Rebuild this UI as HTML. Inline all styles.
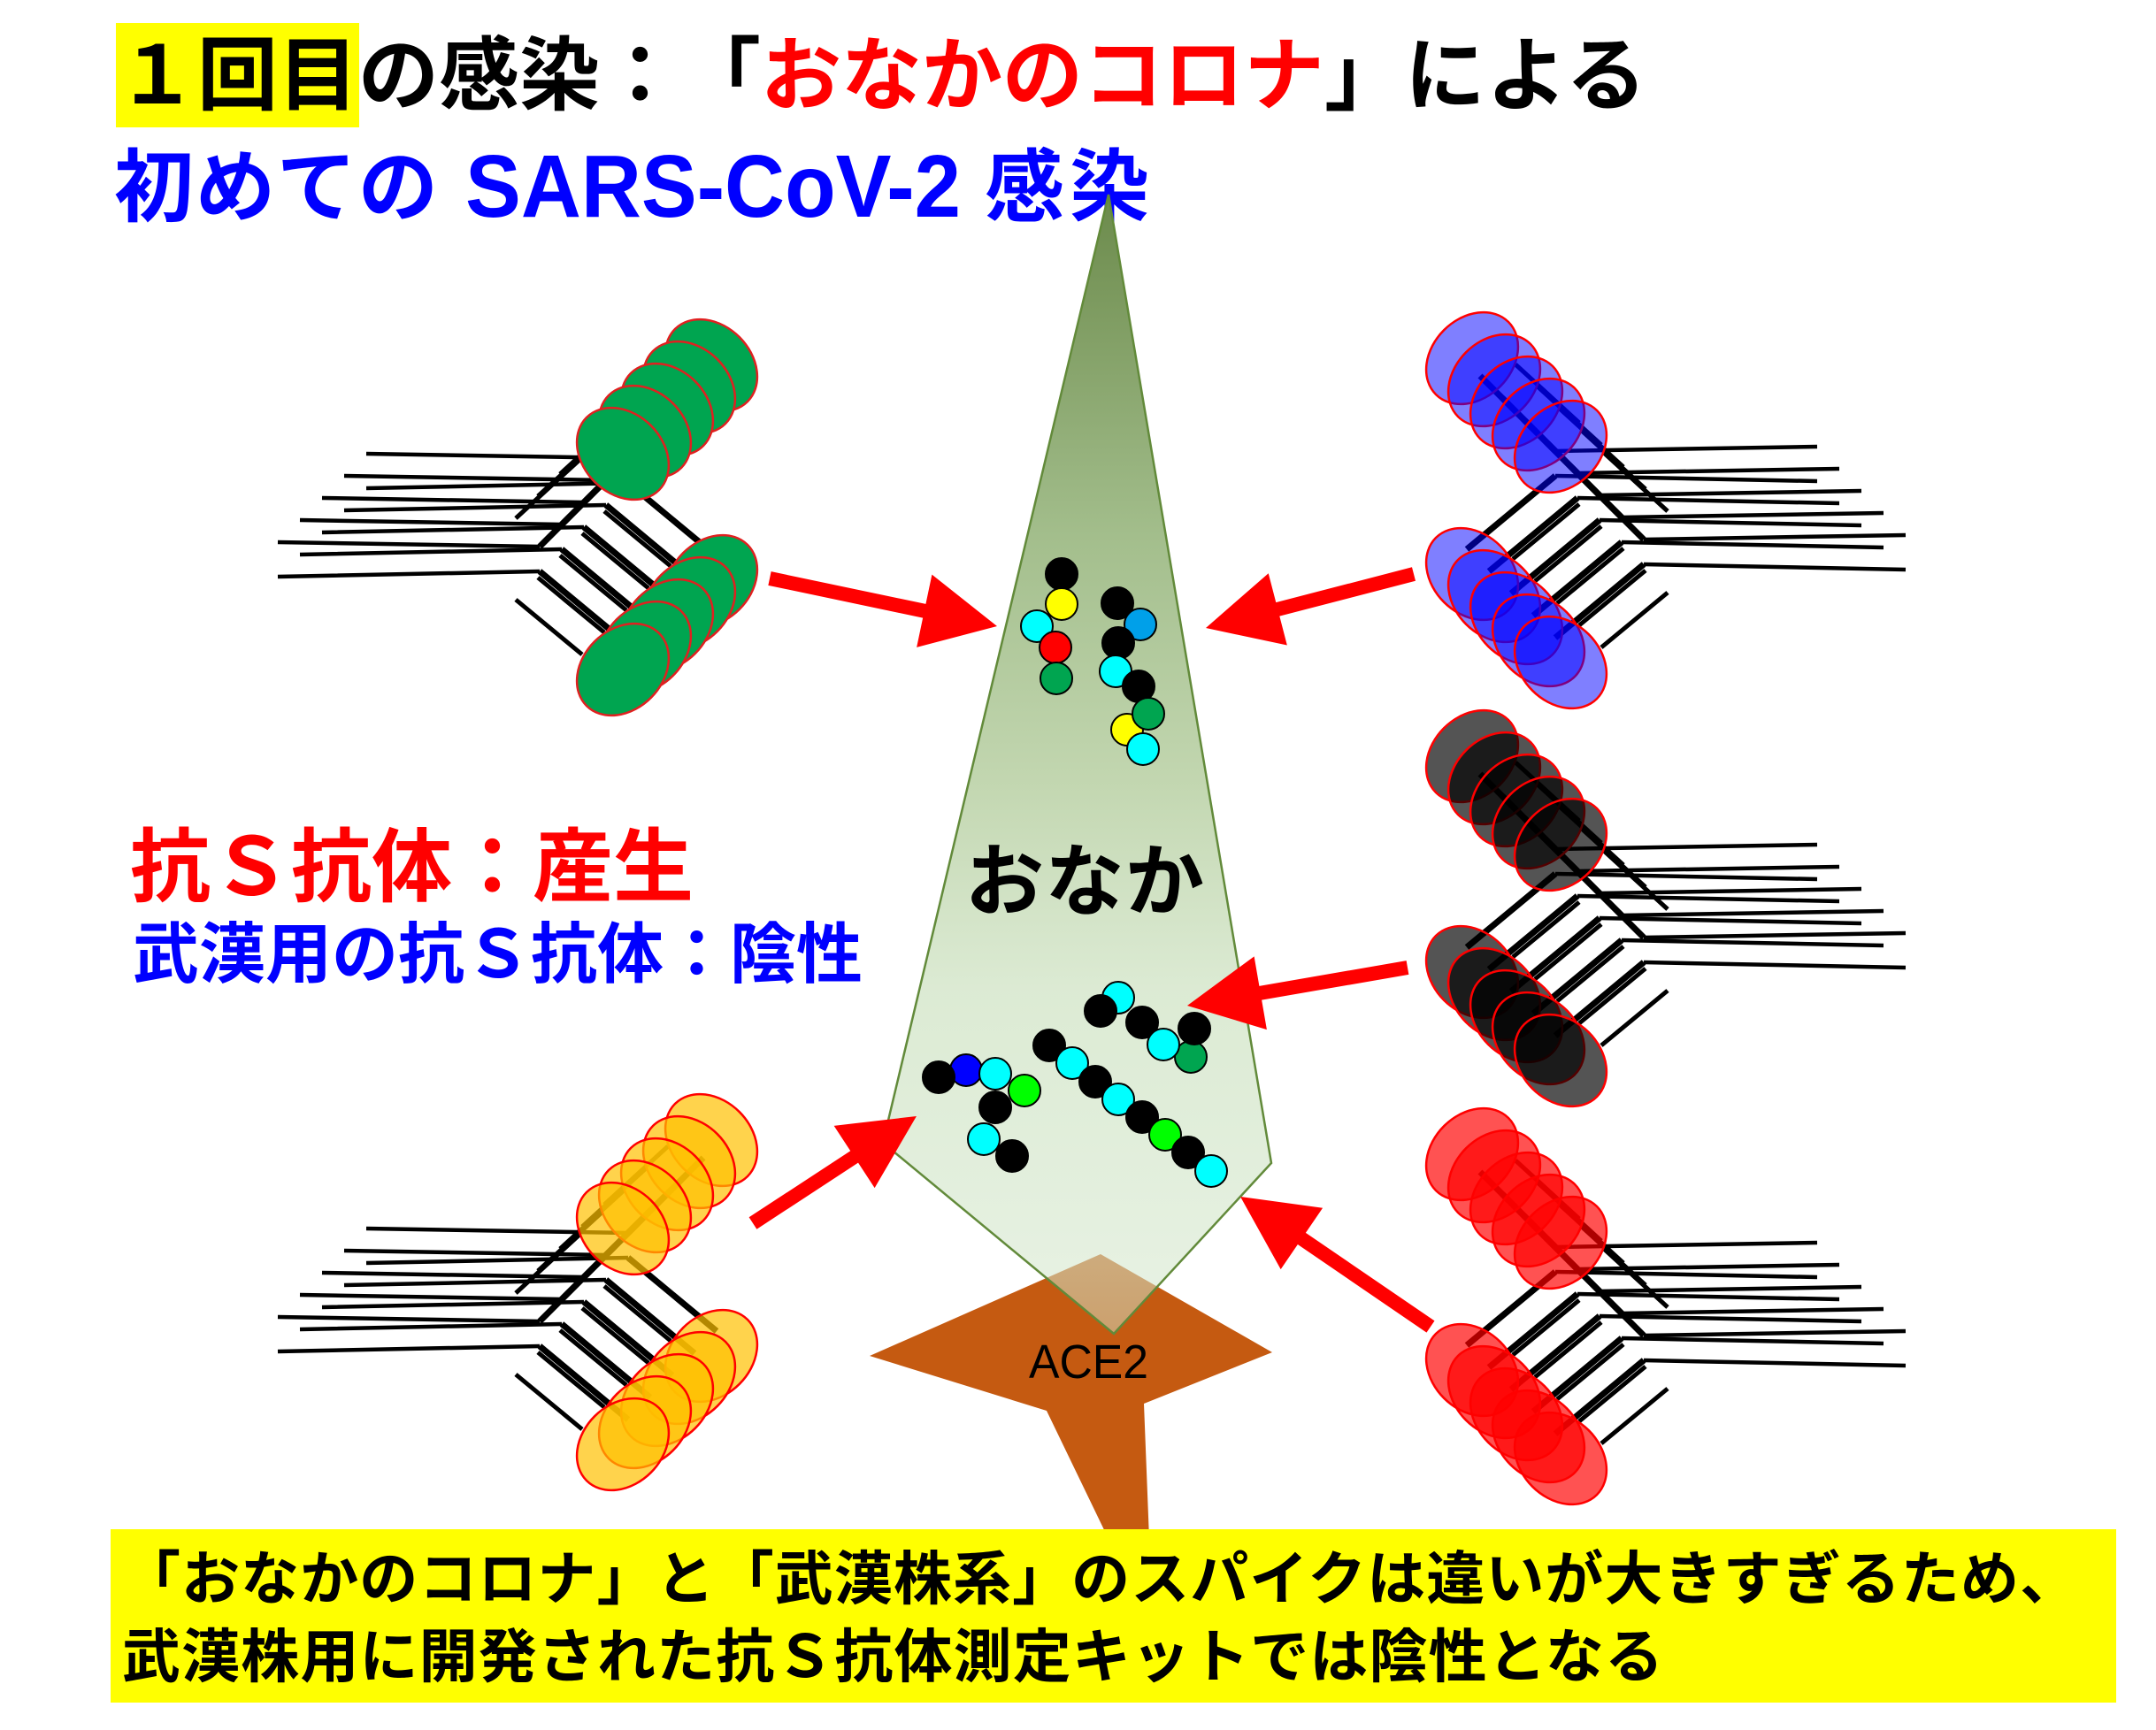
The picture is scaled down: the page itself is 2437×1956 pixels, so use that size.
<!DOCTYPE html>
<html><head><meta charset="utf-8"><style>
html,body{margin:0;padding:0;background:#fff;}
svg{display:block;}
text{font-family:"Liberation Sans","Noto Sans CJK JP",sans-serif;font-feature-settings:"chws" 0,"halt" 0,"palt" 0;}
</style></head><body>
<svg xmlns="http://www.w3.org/2000/svg" xmlns:xlink="http://www.w3.org/1999/xlink" width="2437" height="1956" viewBox="0 0 2437 1956">
<defs>
 <linearGradient id="tg" x1="0" y1="220" x2="0" y2="1508" gradientUnits="userSpaceOnUse">
  <stop offset="0" stop-color="#6B8A4B"/>
  <stop offset="0.3" stop-color="#A3BE8C"/>
  <stop offset="0.52" stop-color="#C3D7B1"/>
  <stop offset="0.7" stop-color="#D6E7CC" stop-opacity="0.85"/>
  <stop offset="1" stop-color="#D2E6CA" stop-opacity="0.5"/>
 </linearGradient>
 <g id="ab">
  <path d="M-296,-19 L0,-14 M-296,20 L0,14" stroke="#000" stroke-width="4.5" fill="none"/>
  <path d="M-27,-46 L45,-112 M-27,46 L48,108" stroke="#000" stroke-width="5" fill="none"/>
  <path d="M0,-14 L85,-99 M0,14 L100,97" stroke="#000" stroke-width="7" fill="none"/>
 </g>
 <g id="lines5">
  <use href="#ab" xlink:href="#ab" transform="translate(100,-100)"/>
  <use href="#ab" xlink:href="#ab" transform="translate(75,-75)"/>
  <use href="#ab" xlink:href="#ab" transform="translate(50,-50)"/>
  <use href="#ab" xlink:href="#ab" transform="translate(25,-25)"/>
  <use href="#ab" xlink:href="#ab"/>
 </g>
 <g id="ells">
  <ellipse rx="58" ry="45" transform="translate(194,-219) rotate(45)"/>
  <ellipse rx="58" ry="45" transform="translate(194,25) rotate(-45)"/>
  <ellipse rx="58" ry="45" transform="translate(169,-194) rotate(45)"/>
  <ellipse rx="58" ry="45" transform="translate(169,50) rotate(-45)"/>
  <ellipse rx="58" ry="45" transform="translate(144,-169) rotate(45)"/>
  <ellipse rx="58" ry="45" transform="translate(144,75) rotate(-45)"/>
  <ellipse rx="58" ry="45" transform="translate(119,-144) rotate(45)"/>
  <ellipse rx="58" ry="45" transform="translate(119,100) rotate(-45)"/>
  <ellipse rx="58" ry="45" transform="translate(94,-119) rotate(45)"/>
  <ellipse rx="58" ry="45" transform="translate(94,125) rotate(-45)"/>
 </g>
</defs>

<rect x="0" y="0" width="2437" height="1956" fill="#fff"/>

<!-- Title -->
<rect x="131" y="26" width="275" height="118" fill="#FFFF00"/>
<g font-size="91" font-weight="bold">
<text x="132" y="117" fill="#000" textLength="637" lengthAdjust="spacing">１回目の感染：</text>
<text x="769" y="117" fill="#000">「</text>
<text x="860" y="117" fill="#FF0000" textLength="637" lengthAdjust="spacing">おなかのコロナ</text>
<text x="1497" y="117" fill="#000">」</text>
<text x="1588" y="117" fill="#000" textLength="273" lengthAdjust="spacing">による</text>
</g>

<text x="129" y="243" font-size="90" font-weight="bold" fill="#0000FF" textLength="366" lengthAdjust="spacing">初めての</text>
<text x="526" y="245" font-size="100" font-weight="bold" fill="#0000FF" textLength="560" lengthAdjust="spacingAndGlyphs">SARS-CoV-2</text>
<text x="1113" y="243" font-size="90" font-weight="bold" fill="#0000FF" textLength="186" lengthAdjust="spacing">感染</text>

<!-- ACE2 -->
<polygon points="1244,1418 1438,1529 1293,1587 1299,1740 1253,1740 1183,1595 983,1533" fill="#C55A11"/>

<!-- Triangle (onaka) -->
<polygon points="1253,220 1437,1315 1259,1508 998,1292" fill="url(#tg)" stroke="#628A3A" stroke-width="2.5" stroke-linejoin="miter"/>

<!-- dots -->
<g stroke="#000" stroke-width="2">
 <circle cx="1200" cy="649" r="18" fill="#000"/>
 <circle cx="1200" cy="683" r="18" fill="#FFFF00"/>
 <circle cx="1172" cy="708" r="18" fill="#00FFFF"/>
 <circle cx="1193" cy="732" r="18" fill="#FF0000"/>
 <circle cx="1194" cy="767" r="18" fill="#00A550"/>

 <circle cx="1263" cy="682" r="18" fill="#000"/>
 <circle cx="1289" cy="706" r="18" fill="#00A0E9"/>
 <circle cx="1264" cy="727" r="18" fill="#000"/>
 <circle cx="1261" cy="759" r="18" fill="#00FFFF"/>
 <circle cx="1287" cy="776" r="18" fill="#000"/>
 <circle cx="1274" cy="825" r="18" fill="#FFFF00"/>
 <circle cx="1298" cy="807" r="18" fill="#00A550"/>
 <circle cx="1292" cy="847" r="18" fill="#00FFFF"/>

 <circle cx="1092" cy="1210" r="18" fill="#0000FF"/>
 <circle cx="1061" cy="1218" r="18" fill="#000"/>
 <circle cx="1125" cy="1214" r="18" fill="#00FFFF"/>
 <circle cx="1158" cy="1233" r="18" fill="#00FF00"/>
 <circle cx="1125" cy="1252" r="18" fill="#000"/>
 <circle cx="1112" cy="1288" r="18" fill="#00FFFF"/>
 <circle cx="1144" cy="1307" r="18" fill="#000"/>

 <circle cx="1186" cy="1182" r="18" fill="#000"/>
 <circle cx="1212" cy="1202" r="18" fill="#00FFFF"/>
 <circle cx="1238" cy="1223" r="18" fill="#000"/>
 <circle cx="1264" cy="1243" r="18" fill="#00FFFF"/>
 <circle cx="1291" cy="1263" r="18" fill="#000"/>
 <circle cx="1317" cy="1283" r="18" fill="#00FF00"/>
 <circle cx="1343" cy="1303" r="18" fill="#000"/>
 <circle cx="1369" cy="1324" r="18" fill="#00FFFF"/>

 <circle cx="1264" cy="1128" r="18" fill="#00FFFF"/>
 <circle cx="1244" cy="1143" r="18" fill="#000"/>
 <circle cx="1291" cy="1156" r="18" fill="#000"/>
 <circle cx="1346" cy="1195" r="18" fill="#00A550"/>
 <circle cx="1315" cy="1181" r="18" fill="#00FFFF"/>
 <circle cx="1350" cy="1163" r="18" fill="#000"/>
</g>

<text x="1091" y="1028" font-size="89" font-weight="bold" fill="#000" textLength="270" lengthAdjust="spacing">おなか</text>
<text x="1163" y="1558" font-size="54" fill="#000" textLength="135" lengthAdjust="spacingAndGlyphs">ACE2</text>

<!-- Left antibodies -->
<g transform="translate(610,632)">
 <use href="#lines5" xlink:href="#lines5"/>
 <use href="#ells" xlink:href="#ells" fill="#00A550" stroke="#E02020" stroke-width="2.5"/>
</g>
<g transform="translate(610,1508)">
 <use href="#lines5" xlink:href="#lines5"/>
 <use href="#ells" xlink:href="#ells" fill="#FFC000" fill-opacity="0.7" stroke="#FF0000" stroke-width="2.5"/>
</g>

<!-- Right antibodies (mirrored) -->
<g transform="translate(1858,624) scale(-1,1)">
 <use href="#lines5" xlink:href="#lines5"/>
 <use href="#ells" xlink:href="#ells" fill="#0000FF" fill-opacity="0.5" stroke="#FF0000" stroke-width="2.5"/>
</g>
<g transform="translate(1858,1074) scale(-1,1)">
 <use href="#lines5" xlink:href="#lines5"/>
 <use href="#ells" xlink:href="#ells" fill="#000000" fill-opacity="0.67" stroke="#FF0000" stroke-width="2.5"/>
</g>
<g transform="translate(1858,1524) scale(-1,1)">
 <use href="#lines5" xlink:href="#lines5"/>
 <use href="#ells" xlink:href="#ells" fill="#FF0000" fill-opacity="0.68" stroke="#FF0000" stroke-width="2.5"/>
</g>

<!-- Arrows -->
<g fill="#FF0000">
 <polygon points="0,-8 178.6,-8 178.6,-42 262.6,0 178.6,42 178.6,8 0,8" transform="translate(870,654) rotate(11.87)"/>
 <polygon points="0,-8 158.8,-8 158.8,-42 242.8,0 158.8,42 158.8,8 0,8" transform="translate(1598,649) rotate(165.45)"/>
 <polygon points="0,-8 168.7,-8 168.7,-42 252.7,0 168.7,42 168.7,8 0,8" transform="translate(1591,1094) rotate(170.2)"/>
 <polygon points="0,-8 137,-8 137,-42 221,0 137,42 137,8 0,8" transform="translate(851,1383) rotate(-33.2)"/>
 <polygon points="0,-8 176.4,-8 176.4,-42 260.4,0 176.4,42 176.4,8 0,8" transform="translate(1617,1500) rotate(-145.64)"/>
</g>

<!-- Side labels -->
<text x="147" y="1012" font-size="91" font-weight="bold" fill="#FF0000" textLength="637" lengthAdjust="spacing">抗Ｓ抗体：産生</text>
<text x="150" y="1105" font-size="75" font-weight="bold" fill="#0000FF" textLength="825" lengthAdjust="spacing">武漢用の抗Ｓ抗体：陰性</text>

<!-- Bottom box -->
<rect x="125" y="1729" width="2267" height="196" fill="#FFFF00"/>
<text x="138" y="1808" font-size="66" font-weight="bold" fill="#000" textLength="2211" lengthAdjust="spacing">「おなかのコロナ」と「武漢株系」のスパイクは違いが大きすぎるため、</text>
<text x="138" y="1896" font-size="66" font-weight="bold" fill="#000" textLength="1742" lengthAdjust="spacing">武漢株用に開発された抗Ｓ抗体測定キットでは陰性となる</text>
</svg>
</body></html>
